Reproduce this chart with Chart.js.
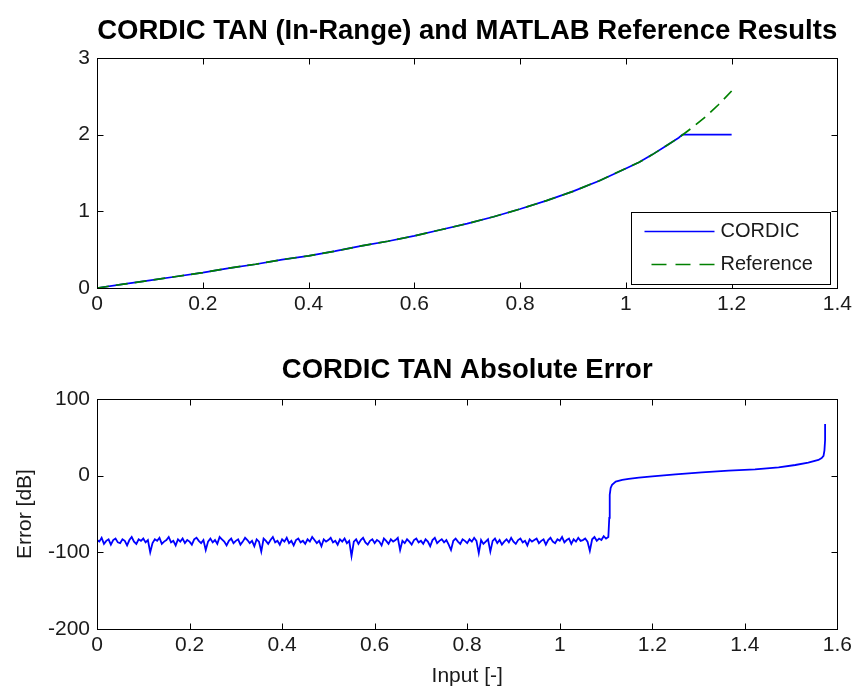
<!DOCTYPE html>
<html><head><meta charset="utf-8">
<script src="https://cdn.jsdelivr.net/npm/chart.js@4.4.1/dist/chart.umd.min.js"></script>
<style>
html,body{margin:0;padding:0;background:#fff;}
.box{position:absolute;left:0;width:856px;}
</style></head><body>
<div style="position:relative;width:856px;height:691px;">
  <div class="box" style="top:0;height:330px"><canvas id="c1" width="856" height="330"></canvas></div>
  <div class="box" style="top:330px;height:361px"><canvas id="c2" width="856" height="361"></canvas></div>
</div>
<script>
// ---------- data ----------
const topTitle = 'CORDIC TAN (In-Range) and MATLAB Reference Results';
const bottomTitle = 'CORDIC TAN Absolute Error';
const seriesNames = ['CORDIC', 'Reference'];
const xAxisLabel = 'Input [-]';
const yAxisLabel = 'Error [dB]';

const refX = [0,0.05,0.1,0.15,0.2,0.25,0.3,0.35,0.4,0.45,0.5,0.55,0.6,0.65,0.7,0.75,0.8,0.85,0.9,0.95,1.0,1.025,1.05,1.075,1.1,1.125,1.15,1.175,1.2];
const refY = [0,0.05,0.10,0.15,0.20,0.26,0.31,0.37,0.42,0.48,0.55,0.61,0.68,0.76,0.84,0.93,1.03,1.14,1.26,1.40,1.56,1.64,1.74,1.85,1.96,2.09,2.23,2.39,2.57];

const cordicX = [0,0.05,0.1,0.15,0.2,0.25,0.3,0.35,0.4,0.45,0.5,0.55,0.6,0.65,0.7,0.75,0.8,0.85,0.9,0.95,1.0,1.025,1.05,1.075,1.1,1.107,1.2];
const cordicY = [0,0.05,0.10,0.15,0.20,0.26,0.31,0.37,0.42,0.48,0.55,0.61,0.68,0.76,0.84,0.93,1.03,1.14,1.26,1.40,1.56,1.64,1.74,1.85,1.96,2.0,2.0];

// error in dB, in-range part (read every 0.005 from x = 0 to 1.105)
const errStep = 0.005;
const errInRange = [
  -84,-86,-81,-89,-85,-83,-90,-84,-82,-87,
  -88,-83,-85,-91,-84,-80,-86,-89,-83,-85,
  -82,-87,-84,-100,-88,-83,-85,-81,-89,-86,
  -84,-80,-87,-85,-91,-83,-86,-82,-88,-84,
  -86,-90,-83,-81,-85,-88,-84,-97,-86,-82,
  -87,-84,-89,-80,-83,-86,-91,-85,-82,-88,
  -85,-83,-90,-86,-81,-84,-88,-85,-92,-83,
  -86,-99,-82,-85,-89,-84,-80,-87,-85,-90,
  -83,-86,-81,-88,-85,-91,-84,-82,-87,-85,
  -89,-83,-86,-80,-84,-88,-85,-92,-83,-86,
  -84,-81,-87,-85,-90,-83,-86,-82,-88,-85,
  -105,-86,-83,-89,-84,-81,-87,-90,-85,-83,
  -88,-84,-86,-91,-82,-85,-89,-83,-86,-84,
  -81,-97,-85,-88,-83,-86,-90,-84,-82,-87,
  -85,-89,-83,-86,-92,-84,-81,-88,-85,-83,
  -87,-84,-90,-97,-85,-82,-86,-89,-83,-85,
  -88,-83,-86,-81,-85,-101,-84,-89,-86,-83,
  -99,-85,-82,-88,-84,-90,-86,-83,-87,-81,
  -86,-89,-84,-82,-87,-85,-91,-83,-86,-84,
  -82,-88,-85,-83,-90,-84,-81,-86,-88,-83,
  -85,-80,-87,-84,-82,-89,-83,-86,-81,-85,
  -84,-82,-86,-98,-83,-80,-85,-82,-84,-79,
  -82,-80
];
// error in dB, out-of-range part
const errOutX = [1.106,1.107,1.108,1.110,1.113,1.121,1.135,1.149,1.171,1.2,1.25,1.307,1.365,1.422,1.473,1.509,1.537,1.559,1.566,1.570,1.572,1.5734,1.5734];
const errOutY = [-80,-55,-25,-16,-12,-7.8,-5.5,-4.3,-2.6,-1,1.8,4.4,6.5,8.3,10.9,13.9,17,20.5,23,25.7,33,46.5,67.4];

const topXTicks = [0,0.2,0.4,0.6,0.8,1,1.2,1.4];
const topYTicks = [0,1,2,3];
const botXTicks = [0,0.2,0.4,0.6,0.8,1,1.2,1.4,1.6];
const botYTicks = [-200,-100,0,100];

// ---------- styling ----------
const FONT = "'Liberation Sans', Arial, Helvetica, sans-serif";
const TXT = '#1a1a1a';
const tickFont = {family: FONT, size: 21};

const axesBox = {
  id: 'axesBox',
  afterDatasetsDraw(chart) {
    const {ctx, chartArea: ca, scales} = chart;
    const L = Math.round(ca.left) + 0.5, R = Math.round(ca.right) + 0.5;
    const T = Math.round(ca.top) + 0.5, B = Math.round(ca.bottom) + 0.5;
    const tl = 6;
    ctx.save();
    ctx.strokeStyle = '#000';
    ctx.lineWidth = 1;
    ctx.setLineDash([]);
    ctx.strokeRect(L, T, R - L, B - T);
    ctx.beginPath();
    scales.x.ticks.forEach(t => {
      const p = Math.round(scales.x.getPixelForValue(t.value)) + 0.5;
      ctx.moveTo(p, B); ctx.lineTo(p, B - tl);
      ctx.moveTo(p, T); ctx.lineTo(p, T + tl);
    });
    scales.y.ticks.forEach(t => {
      const p = Math.round(scales.y.getPixelForValue(t.value)) + 0.5;
      ctx.moveTo(L, p); ctx.lineTo(L + tl, p);
      ctx.moveTo(R, p); ctx.lineTo(R - tl, p);
    });
    ctx.stroke();
    ctx.restore();
  }
};

const boxLegend = {
  id: 'boxLegend',
  afterDraw(chart) {
    const {ctx, chartArea: ca} = chart;
    const w = 199, h = 72;
    const x = Math.round(ca.right - 7 - w) + 0.5, y = Math.round(ca.bottom - 4 - h) + 0.5;
    ctx.save();
    ctx.fillStyle = '#fff';
    ctx.fillRect(x, y, w, h);
    ctx.strokeStyle = '#000';
    ctx.lineWidth = 1;
    ctx.strokeRect(x, y, w, h);
    const rows = [19, 52];
    const byName = seriesNames.map(n => chart.data.datasets.find(d => d.label === n));
    byName.forEach((ds, i) => {
      const yy = y + rows[i];
      ctx.beginPath();
      ctx.strokeStyle = ds.borderColor;
      ctx.lineWidth = ds.borderWidth;
      if (ds.borderDash) {
        ctx.setLineDash([15, 9]);
        ctx.moveTo(x + 20, yy);
      } else {
        ctx.setLineDash([]);
        ctx.moveTo(x + 13, yy);
      }
      ctx.lineTo(x + 83, yy);
      ctx.stroke();
      ctx.setLineDash([]);
      ctx.fillStyle = TXT;
      ctx.font = `20px ${FONT}`;
      ctx.textBaseline = 'middle';
      ctx.textAlign = 'left';
      ctx.fillText(ds.label, x + 89, yy);
    });
    ctx.restore();
  }
};

function fmt(v) { return String(Math.round(v * 1000) / 1000); }

function axis(min, max, ticks, extra) {
  return Object.assign({
    type: 'linear', min, max,
    afterBuildTicks(s) { s.ticks = ticks.map(v => ({value: v})); },
    ticks: {font: tickFont, color: TXT, autoSkip: false, maxRotation: 0, callback: v => fmt(v)},
    grid: {display: false, drawTicks: false},
    border: {display: false}
  }, extra);
}

// ---------- top chart ----------
new Chart(document.getElementById('c1'), {
  type: 'line',
  data: {
    datasets: [
      {label: seriesNames[0], data: cordicX.map((x, i) => ({x, y: cordicY[i]})),
       borderColor: '#0000ff', borderWidth: 1.7, pointRadius: 0, tension: 0, order: 1},
      {label: seriesNames[1], data: refX.map((x, i) => ({x, y: refY[i]})),
       borderColor: '#008000', borderWidth: 1.7, borderDash: [12, 7], pointRadius: 0, tension: 0, order: 0}
    ]
  },
  options: {
    responsive: false, animation: false, devicePixelRatio: 1,
    layout: {padding: {left: 0, right: 17, top: 0, bottom: 0}},
    plugins: {
      legend: {display: false}, tooltip: {enabled: false},
      title: {display: true, fullSize: false, text: topTitle, color: '#000',
              font: {family: FONT, size: 27.5, weight: 'bold'}, padding: {top: 14.5, bottom: 10.5}}
    },
    scales: {
      x: axis(0, 1.4, topXTicks, {ticks: {font: tickFont, color: TXT, autoSkip: false, maxRotation: 0, padding: 4, callback: v => fmt(v)},
                                  afterFit(s) { s.height = 42; }}),
      y: axis(0, 3, topYTicks, {ticks: {font: tickFont, color: TXT, autoSkip: false, padding: 7, callback: v => fmt(v)},
                                afterFit(s) { s.width = 97; }})
    }
  },
  plugins: [axesBox, boxLegend]
});

// ---------- bottom chart ----------
const errData = errInRange.map((v, i) => ({x: i * errStep, y: v}))
  .concat(errOutX.map((x, i) => ({x, y: errOutY[i]})));

new Chart(document.getElementById('c2'), {
  type: 'line',
  data: {
    datasets: [
      {label: 'Error', data: errData, borderColor: '#0000ff', borderWidth: 1.8, pointRadius: 0, tension: 0}
    ]
  },
  options: {
    responsive: false, animation: false, devicePixelRatio: 1,
    layout: {padding: {left: 0, right: 17, top: 0, bottom: 0}},
    plugins: {
      legend: {display: false}, tooltip: {enabled: false},
      title: {display: true, fullSize: false, text: bottomTitle, color: '#000',
              font: {family: FONT, size: 27.5, weight: 'bold'}, padding: {top: 23.5, bottom: 12.5}}
    },
    scales: {
      x: axis(0, 1.6, botXTicks, {ticks: {font: tickFont, color: TXT, autoSkip: false, maxRotation: 0, padding: 4, callback: v => fmt(v)},
                                  title: {display: true, text: xAxisLabel, color: TXT, font: {family: FONT, size: 21}, padding: {top: 0, bottom: 2.4}},
                                  afterFit(s) { s.height = 62; }}),
      y: axis(-200, 100, botYTicks, {ticks: {font: tickFont, color: TXT, autoSkip: false, padding: 7, callback: v => fmt(v)},
                                     title: {display: true, text: yAxisLabel, color: TXT, font: {family: FONT, size: 21}, padding: {top: 12.4, bottom: 0}},
                                     afterFit(s) { s.width = 97; }})
    }
  },
  plugins: [axesBox]
});
</script>
</body></html>
